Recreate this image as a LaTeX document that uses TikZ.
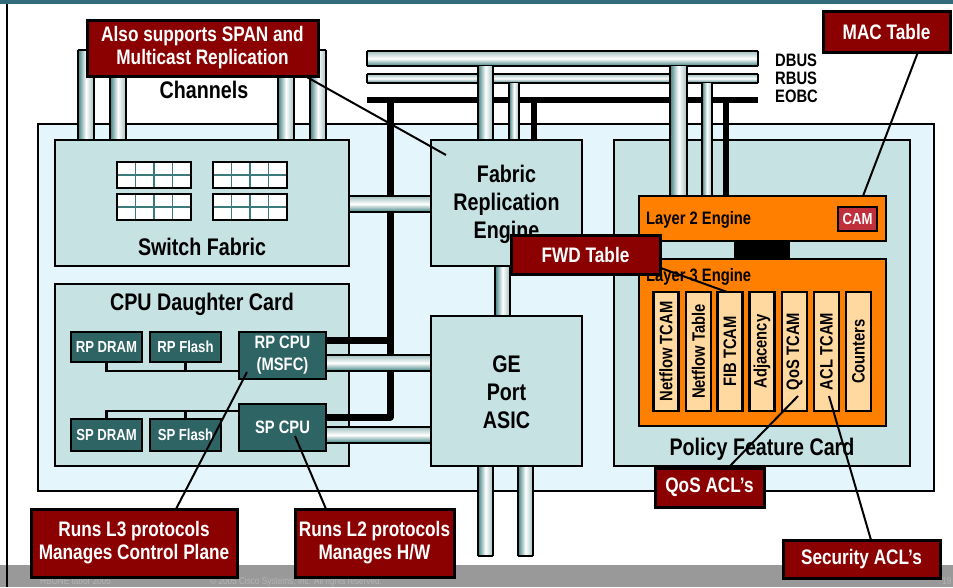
\documentclass[tikz,border=0pt]{standalone}
\usepackage{fontspec}
\setmainfont{Liberation Sans}[FakeStretch=0.82]
\usetikzlibrary{calc}
\definecolor{topC}{HTML}{336B7A}
\definecolor{cardC}{HTML}{E4F6FC}
\definecolor{boxC}{HTML}{C6E2E2}
\definecolor{tealC}{HTML}{2F6464}
\definecolor{redC}{HTML}{8B0000}
\definecolor{orC}{HTML}{FF8000}
\definecolor{ltOr}{HTML}{FFD9A0}
\definecolor{camC}{HTML}{C0303A}
\definecolor{pipeC}{HTML}{3F8080}
\definecolor{gridC}{HTML}{3A7A7A}
\definecolor{footC}{HTML}{999999}
\definecolor{footT}{HTML}{B4B4B4}
\newcommand\vpipe[4]{%
  \shade[left color=pipeC, right color=pipeC!50, middle color=white] (#1,#2) rectangle (#3,#4);
  \draw[line width=1.5pt] (#1,#2) -- (#1,#4) (#3,#2) -- (#3,#4);}
\newcommand\hpipe[4]{%
  \shade[top color=pipeC!50, bottom color=pipeC, middle color=white] (#1,#2) rectangle (#3,#4);
  \draw[line width=1.5pt] (#1,#2) -- (#3,#2) (#1,#4) -- (#3,#4);}
\tikzset{
  card/.style={draw=black, fill=cardC, line width=2.5pt, inner sep=0pt, outer sep=0pt},
  inbox/.style={draw=black, fill=boxC, line width=2.5pt, inner sep=0pt, outer sep=0pt},
  tbox/.style={draw=black, fill=tealC, line width=2.5pt, inner sep=0pt, outer sep=0pt, text=white, align=center, font=\fontsize{16}{19}\selectfont\bfseries},
  tcpu/.style={tbox, font=\fontsize{18}{22}\selectfont\bfseries},
  callout/.style={draw=black, fill=redC, line width=3pt, inner sep=0pt, outer sep=0pt, text=white, align=center, font=\fontsize{21}{23}\selectfont\bfseries},
  eng/.style={draw=black, fill=orC, line width=2.5pt, inner sep=0pt, outer sep=0pt},
  colbox/.style={draw=black, fill=ltOr, line width=2.5pt, inner sep=0pt, outer sep=0pt, minimum width=25pt, minimum height=119pt},
  coltext/.style={rotate=90, font=\fontsize{18}{20}\selectfont\bfseries},
  big/.style={font=\fontsize{24}{28}\selectfont\bfseries, align=center, inner sep=0pt},
  med/.style={font=\fontsize{18}{22}\selectfont\bfseries, inner sep=0pt},
  buslbl/.style={font=\fontsize{18}{18}\selectfont\bfseries, inner sep=0pt, anchor=west},
  wire/.style={line width=2.5pt, black},
  eobc/.style={line width=7pt, black, line join=round},
  callline/.style={line width=2pt, black},
  foot/.style={font=\fontsize{10}{11}\selectfont, text=footT, inner sep=0pt, anchor=base west}
}
\begin{document}
\begin{tikzpicture}[x=1pt, y=-1pt]
\useasboundingbox (0,0) rectangle (953,587);
% frame elements
\fill[white] (0,0) rectangle (953,587);
\fill[footC] (0,565) rectangle (953,587);
\fill[topC] (0,0) rectangle (953,4);
\node[foot] (ft1) at (40,584) {HBONE tábor 2005};
\node[foot] (ft2) at (210,584) {© 2005 Cisco Systems, Inc. All rights reserved.};
\node[foot] (ft3) at (942,584) {18};
% outer card
\node[card, minimum width=896pt, minimum height=367pt] (card) at (486,307.5) {};
% buses
\hpipe{367}{51}{758}{66}
\draw[line width=1.5pt] (367,51) -- (367,66) (758,51) -- (758,66);
\hpipe{367}{74}{758}{83}
\draw[line width=1.5pt] (367,74) -- (367,83) (758,74) -- (758,83);
\draw[line width=6pt] (367,99.5) -- (758,99.5);
\node[buslbl] (dbus) at (775,60) {DBUS};
\node[buslbl] (rbus) at (775,78) {RBUS};
\node[buslbl] (eobcl) at (775,96) {EOBC};
% inner boxes
\node[inbox, minimum width=294pt, minimum height=126pt] (sf) at (202,203) {};
\node[inbox, minimum width=294pt, minimum height=182pt] (cpu) at (202,375) {};
\node[inbox, minimum width=151pt, minimum height=126pt] (fre) at (506.5,203) {};
\node[inbox, minimum width=151pt, minimum height=150pt] (ge) at (506.5,391) {};
\node[inbox, minimum width=296pt, minimum height=326pt] (pfc) at (762,303) {};
% EOBC black lines
\draw[eobc] (390,99.5) -- (390,417) -- (326,417);
\draw[eobc] (390,340) -- (326,340);
\draw[line width=6pt] (534,102) -- (534,140);
\draw[line width=6pt] (726,102) -- (726,196);
% bus drops
\vpipe{478}{66}{493}{140}
\vpipe{509}{83}{519}{140}
\vpipe{670}{66}{687}{196}
\vpipe{702}{83}{712}{196}
% channels
\foreach \px in {78,110,278,310}{
  \vpipe{\px}{50}{\px+16}{140}
  \draw[line width=1.5pt] (\px,50) -- (\px+16,50);
}
% other pipes
\hpipe{349}{196}{431}{212}
\vpipe{495}{266}{510}{316}
\vpipe{478}{466}{493}{556}
\draw[line width=1.5pt] (478,556) -- (493,556);
\vpipe{518}{466}{533}{556}
\draw[line width=1.5pt] (518,556) -- (533,556);
\hpipe{326}{355}{431}{371}
\hpipe{326}{427}{431}{443}
% redraw box borders where pipes meet
\draw[line width=2.5pt] (sf.north west) rectangle (sf.south east);
\draw[line width=2.5pt] (fre.north west) rectangle (fre.south east);
\draw[line width=2.5pt] (ge.north west) rectangle (ge.south east);
% texts
\node[big] (chan) at (204,90) {Channels};
\node[big] (sft) at (202,247) {Switch Fabric};
\node[big] (cput) at (202,304) {CPU Daughter Card};
\node[big] (fret) at (506.5,204) {Fabric\\Replication\\Engine};
\node[big] (get) at (506.5,392) {GE\\Port\\ASIC};
\node[big] (pfct) at (762,449) {Policy Feature Card};
% switch fabric grids
\foreach \gx/\gy in {117/162, 213/162, 117/194, 213/194}{
  \fill[white] (\gx,\gy) rectangle ++(74,26);
  \foreach \k in {1,2,3} \draw[gridC, line width=1.5pt] (\gx+18.5*\k,\gy) -- ++(0,26);
  \draw[gridC, line width=1.5pt] (\gx,\gy+13) -- ++(74,0);
  \draw[line width=2.5pt] (\gx,\gy) rectangle ++(74,26);
}
% engines
\fill[black] (734,241) rectangle (790,259);
\node[eng, minimum width=247pt, minimum height=45pt] (l2) at (762.5,218.5) {};
\node[eng, minimum width=247pt, minimum height=167pt] (l3) at (762.5,342.5) {};
\node[med, anchor=west] (l2t) at (646,220) {Layer 2 Engine};
\node[med, anchor=west] (l3t) at (646,277) {Layer 3 Engine};
\node[draw=black, fill=camC, line width=2pt, minimum width=39pt, minimum height=24pt, inner sep=0pt, text=white, font=\fontsize{16}{18}\selectfont\bfseries] (cam) at (857.5,219) {CAM};
\foreach \cx/\lab/\nm in {666/Netflow TCAM/c1, 698.5/Netflow Table/c2, 730/FIB TCAM/c3, 762/Adjacency/c4, 794.5/QoS TCAM/c5, 826.5/ACL TCAM/c6, 858.5/Counters/c7}{
  \node[colbox] (\nm) at (\cx,351.5) {};
  \node[coltext] (\nm t) at (\cx,351.5) {\lab};
}
% CPU card
\coordinate (rpbus) at (106.5,371);
\coordinate (spbus) at (106.5,411);
\node[tbox, minimum width=71pt, minimum height=30pt] (rpdram) at (106.5,347) {RP DRAM};
\node[tbox, minimum width=71pt, minimum height=30pt] (rpflash) at (185.5,347) {RP Flash};
\node[tcpu, minimum width=87pt, minimum height=47pt] (rpcpu) at (282.5,355.5) {RP CPU\\(MSFC)};
\node[tbox, minimum width=71pt, minimum height=32pt] (spdram) at (106.5,435) {SP DRAM};
\node[tbox, minimum width=71pt, minimum height=32pt] (spflash) at (185.5,435) {SP Flash};
\node[tcpu, minimum width=87pt, minimum height=47pt] (spcpu) at (282.5,427.5) {SP CPU};
\draw[wire] (rpdram.south) -- (rpbus) -- (rpbus -| rpcpu.west);
\draw[wire] (rpflash.south) -- (rpflash.south |- rpbus);
\draw[wire] (spdram.north) -- (spbus) -- (spbus -| spcpu.west);
\draw[wire] (spflash.north) -- (spflash.north |- spbus);
% callout lines
\coordinate (a1) at (305,76);  \coordinate (b1) at (446,155);
\coordinate (a2) at (918,52);  \coordinate (b2) at (863,196);
\coordinate (a3) at (658,267); \coordinate (b3) at (727,292);
\coordinate (a4) at (728,468); \coordinate (b4) at (798,396);
\coordinate (a5) at (871,540); \coordinate (b5) at (829,396);
\coordinate (a6) at (176,509); \coordinate (b6) at (247,372);
\coordinate (a7) at (326,509); \coordinate (b7) at (295,436);
\foreach \i in {1,...,7} \draw[callline] (a\i) -- (b\i);
% callouts
\node[callout, minimum width=231pt, minimum height=56pt] (span) at (202.5,48) {Also supports SPAN and\\Multicast Replication};
\node[callout, minimum width=127pt, minimum height=41pt] (mac) at (886.5,31.5) {MAC Table};
\node[callout, minimum width=149pt, minimum height=39pt] (fwd) at (585.5,254.5) {FWD Table};
\node[callout, minimum width=109pt, minimum height=39pt] (qos) at (709.5,487.5) {QoS ACL’s};
\node[callout, minimum width=157pt, minimum height=38pt] (sec) at (861.5,559) {Security ACL’s};
\node[callout, minimum width=206pt, minimum height=68pt] (l3c) at (134,543) {Runs L3 protocols\\Manages Control Plane};
\node[callout, minimum width=159pt, minimum height=68pt] (l2c) at (374.5,543) {Runs L2 protocols\\Manages H/W};
% left rule
\draw[line width=2pt] (7,4) -- (7,587);
\end{tikzpicture}
\end{document}
